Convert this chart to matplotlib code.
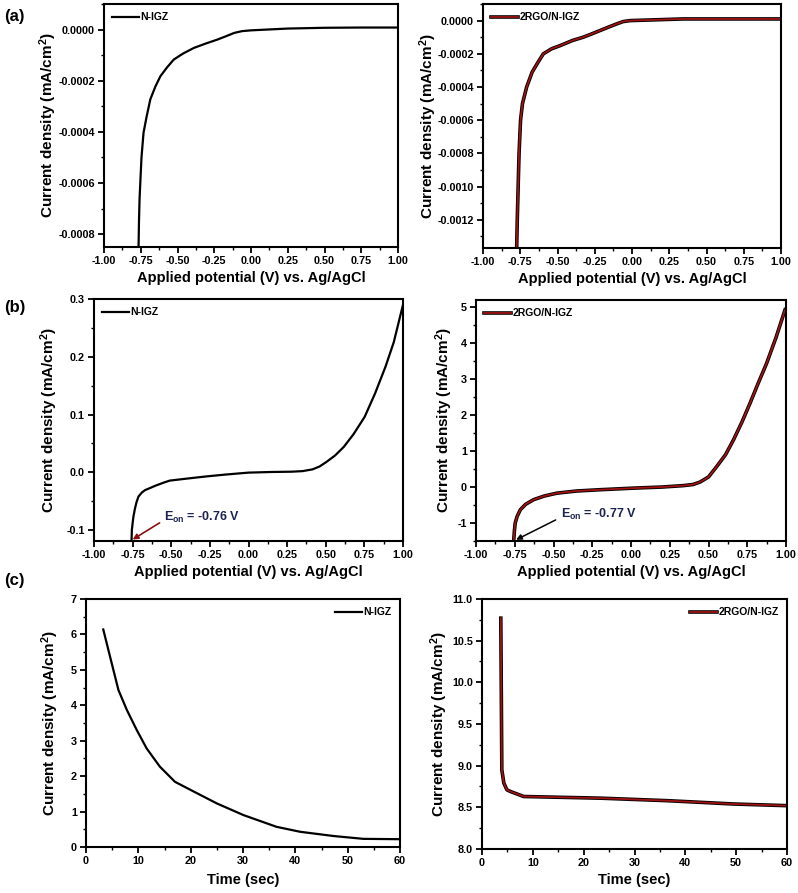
import matplotlib
matplotlib.use("Agg")
import matplotlib.pyplot as plt
import matplotlib.patheffects as pe
from matplotlib.ticker import AutoMinorLocator, FuncFormatter, MultipleLocator

plt.rcParams["font.family"] = ["Liberation Sans", "DejaVu Sans"]
plt.rcParams["font.weight"] = "bold"
plt.rcParams["axes.unicode_minus"] = False
plt.rcParams["mathtext.fontset"] = "custom"
plt.rcParams["mathtext.rm"] = "Liberation Sans:bold"
plt.rcParams["mathtext.bf"] = "Liberation Sans:bold"
plt.rcParams["mathtext.it"] = "Liberation Sans:bold"

# (a) LSV in dark
a_nigz_v = [-0.765, -0.762, -0.758, -0.753, -0.745, -0.731, -0.71, -0.685, -0.65, -0.616, -0.57, -0.525,
            -0.46, -0.388, -0.31, -0.228, -0.17, -0.114, -0.06, 0.0, 0.25, 0.5, 0.75, 1.0]
a_nigz_j = [-0.00085, -0.00075, -0.00066, -0.000598, -0.0005, -0.000403, -0.00034, -0.000273, -0.000222,
            -0.000182, -0.000147, -0.000117, -0.000093, -0.0000716, -0.000055, -0.000039, -0.000026,
            -0.000013, -0.000006, -0.000003, 0.000004, 0.000007, 0.000008, 0.000008]
a_rgo_v = [-0.774, -0.770, -0.764, -0.758, -0.748, -0.735, -0.707, -0.67, -0.63, -0.595, -0.54, -0.48,
           -0.40, -0.327, -0.27, -0.215, -0.16, -0.103, -0.06, -0.013, 0.344, 1.0]
a_rgo_j = [-0.00137, -0.0012, -0.0010, -0.0008, -0.0006, -0.0005, -0.0004, -0.00031, -0.00025, -0.0002,
           -0.00017, -0.00015, -0.00012, -0.0001, -0.00008, -0.00006, -0.00004, -0.00002, -0.000006,
           0.0, 0.00001, 0.00001]

# (b) LSV under illumination
b_nigz_v = [-0.757, -0.755, -0.750, -0.745, -0.735, -0.725, -0.712, -0.69, -0.67, -0.644, -0.6, -0.55,
            -0.509, -0.4, -0.284, -0.15, 0.0, 0.15, 0.279, 0.35, 0.414, 0.46, 0.505, 0.56, 0.617, 0.68,
            0.752, 0.82, 0.887, 0.94, 1.0]
b_nigz_j = [-0.118, -0.10, -0.088, -0.077, -0.063, -0.052, -0.042, -0.035, -0.031, -0.028, -0.023, -0.018,
            -0.0144, -0.011, -0.0075, -0.004, -0.0006, 0.0005, 0.001, 0.002, 0.005, 0.010, 0.018, 0.029,
            0.044, 0.066, 0.096, 0.137, 0.183, 0.225, 0.29]
b_rgo_v = [-0.757, -0.752, -0.747, -0.735, -0.714, -0.68, -0.628, -0.56, -0.478, -0.35, -0.199, 0.016,
           0.2, 0.338, 0.40, 0.446, 0.50, 0.553, 0.61, 0.661, 0.715, 0.768, 0.82, 0.875, 0.935, 0.994]
b_rgo_j = [-1.5, -1.2, -1.0, -0.82, -0.63, -0.48, -0.35, -0.25, -0.17, -0.11, -0.074, -0.03,
           0.0, 0.04, 0.07, 0.14, 0.28, 0.57, 0.9, 1.31, 1.8, 2.33, 2.88, 3.44, 4.15, 4.93]

# (c) chronoamperometry
c_nigz_t = [3.3, 4.6, 6.2, 7.8, 9.7, 11.6, 14.1, 17.0, 20.0, 25.0, 30.1, 36.4, 40.9, 47.3, 53.0, 60.0]
c_nigz_j = [6.14, 5.37, 4.43, 3.87, 3.30, 2.78, 2.27, 1.84, 1.61, 1.23, 0.90, 0.57, 0.43, 0.31, 0.23, 0.22]
c_rgo_t = [3.7, 3.9, 4.3, 4.9, 5.6, 8.2, 23.3, 36.4, 43.0, 49.5, 60.0]
c_rgo_j = [10.77, 8.95, 8.79, 8.71, 8.69, 8.63, 8.61, 8.58, 8.56, 8.54, 8.52]

W, H = 798, 893
fig = plt.figure(figsize=(W / 100, H / 100), dpi=100)


def make_ax(x0, y0, x1, y1):
    return fig.add_axes([x0 / W, 1 - y1 / H, (x1 - x0) / W, (y1 - y0) / H])


def fmt(nd):
    def f(v, pos):
        s = f"{v:.{nd}f}"
        if s.startswith("-") and float(s) == 0:
            s = s[1:]
        return s
    return FuncFormatter(f)


red_fx = [pe.Stroke(linewidth=2.6, foreground="black"), pe.Normal()]
ylab = "Current density (mA/cm$^{2}$)"
vlab = "Applied potential (V) vs. Ag/AgCl"


def style(ax, xlab, ylab_off, xlab_off, nd_y, nd_x):
    for s in ax.spines.values():
        s.set_linewidth(1.5)
    ax.tick_params(which="major", direction="out", length=4.5, width=1.3, labelsize=7.8, pad=2)
    ax.tick_params(which="minor", direction="out", length=2.2, width=1.0)
    ax.xaxis.set_minor_locator(AutoMinorLocator(2))
    ax.yaxis.set_minor_locator(AutoMinorLocator(2))
    ax.yaxis.set_major_formatter(fmt(nd_y))
    ax.xaxis.set_major_formatter(fmt(nd_x))
    for lb in ax.get_xticklabels() + ax.get_yticklabels():
        lb.set_fontweight("bold")
    ax.set_xlabel(xlab, fontsize=10.5, fontweight="bold")
    ax.set_ylabel(ylab, fontsize=11, fontweight="bold")
    bb = ax.get_position()
    ax.yaxis.set_label_coords(-ylab_off / (bb.width * W), 0.5)
    ax.xaxis.set_label_coords(0.5, -xlab_off / (bb.height * H))


def leg(ax, loc):
    ax.legend(loc=loc, frameon=False, handlelength=2.6, handletextpad=0.1,
              borderaxespad=0.4, prop={"weight": "bold", "size": 7.5})


# (a) left
ax = make_ax(104, 4, 398, 247)
ax.plot(a_nigz_v, a_nigz_j, color="black", lw=1.6, label="N-IGZ")
ax.set_xlim(-1, 1)
ax.set_ylim(-0.00085, 0.0001)
ax.xaxis.set_major_locator(MultipleLocator(0.25))
ax.yaxis.set_major_locator(MultipleLocator(0.0002))
style(ax, vlab, 45, 24, 4, 2)
leg(ax, "upper left")

# (a) right
ax = make_ax(483, 4, 781, 248)
ax.plot(a_rgo_v, a_rgo_j, color="#a01212", lw=1.3, path_effects=red_fx, label="2RGO/N-IGZ")
ax.set_xlim(-1, 1)
ax.set_ylim(-0.00137, 0.0001)
ax.xaxis.set_major_locator(MultipleLocator(0.25))
ax.yaxis.set_major_locator(MultipleLocator(0.0002))
style(ax, vlab, 44, 24, 4, 2)
leg(ax, "upper left")

# (b) left
ax = make_ax(94, 299, 403, 541)
ax.plot(b_nigz_v, b_nigz_j, color="black", lw=1.6, label="N-IGZ")
ax.set_xlim(-1, 1)
ax.set_ylim(-0.119, 0.3)
ax.xaxis.set_major_locator(MultipleLocator(0.25))
ax.yaxis.set_major_locator(MultipleLocator(0.1))
style(ax, vlab, 34, 24, 1, 2)
leg(ax, "upper left")
ax.annotate("", xy=(-0.765, -0.119), xytext=(-0.56, -0.085),
            arrowprops=dict(arrowstyle="-|>", color="#8b1010", lw=1.2, mutation_scale=8))
ax.text(-0.55, -0.078, r"E$_{\mathrm{on}}$ = -0.76 V", color="#1c2350", fontsize=9,
        fontweight="bold", va="center", ha="left")

# (b) right
ax = make_ax(476, 300, 786, 541)
ax.plot(b_rgo_v, b_rgo_j, color="#a01212", lw=1.3, path_effects=red_fx, label="2RGO/N-IGZ")
ax.set_xlim(-1, 1)
ax.set_ylim(-1.5, 5.2)
ax.xaxis.set_major_locator(MultipleLocator(0.25))
ax.yaxis.set_major_locator(MultipleLocator(1))
style(ax, vlab, 21, 24, 0, 2)
leg(ax, "upper left")
ax.annotate("", xy=(-0.757, -1.5), xytext=(-0.47, -0.88),
            arrowprops=dict(arrowstyle="-|>", color="black", lw=1.1, mutation_scale=8))
ax.text(-0.45, -0.77, r"E$_{\mathrm{on}}$ = -0.77 V", color="#1c2350", fontsize=9,
        fontweight="bold", va="center", ha="left")

# (c) left
ax = make_ax(86, 599, 400, 847)
ax.plot(c_nigz_t, c_nigz_j, color="black", lw=1.6, label="N-IGZ")
ax.set_xlim(0, 60)
ax.set_ylim(0, 7)
ax.xaxis.set_major_locator(MultipleLocator(10))
ax.yaxis.set_major_locator(MultipleLocator(1))
style(ax, "Time (sec)", 25, 26, 0, 0)
leg(ax, "upper right")

# (c) right
ax = make_ax(482, 599, 787, 849)
ax.plot(c_rgo_t, c_rgo_j, color="#a01212", lw=1.3, path_effects=red_fx, label="2RGO/N-IGZ")
ax.set_xlim(0, 60)
ax.set_ylim(8.0, 11.0)
ax.xaxis.set_major_locator(MultipleLocator(10))
ax.yaxis.set_major_locator(MultipleLocator(0.5))
style(ax, "Time (sec)", 32, 24, 1, 0)
leg(ax, "upper right")

# panel letters
for lab, y in [("(a)", 17), ("(b)", 307), ("(c)", 580)]:
    fig.text(4 / W, 1 - y / H, lab, fontsize=12, fontweight="bold", va="center", ha="left")

fig.savefig("out.png", dpi=100)
